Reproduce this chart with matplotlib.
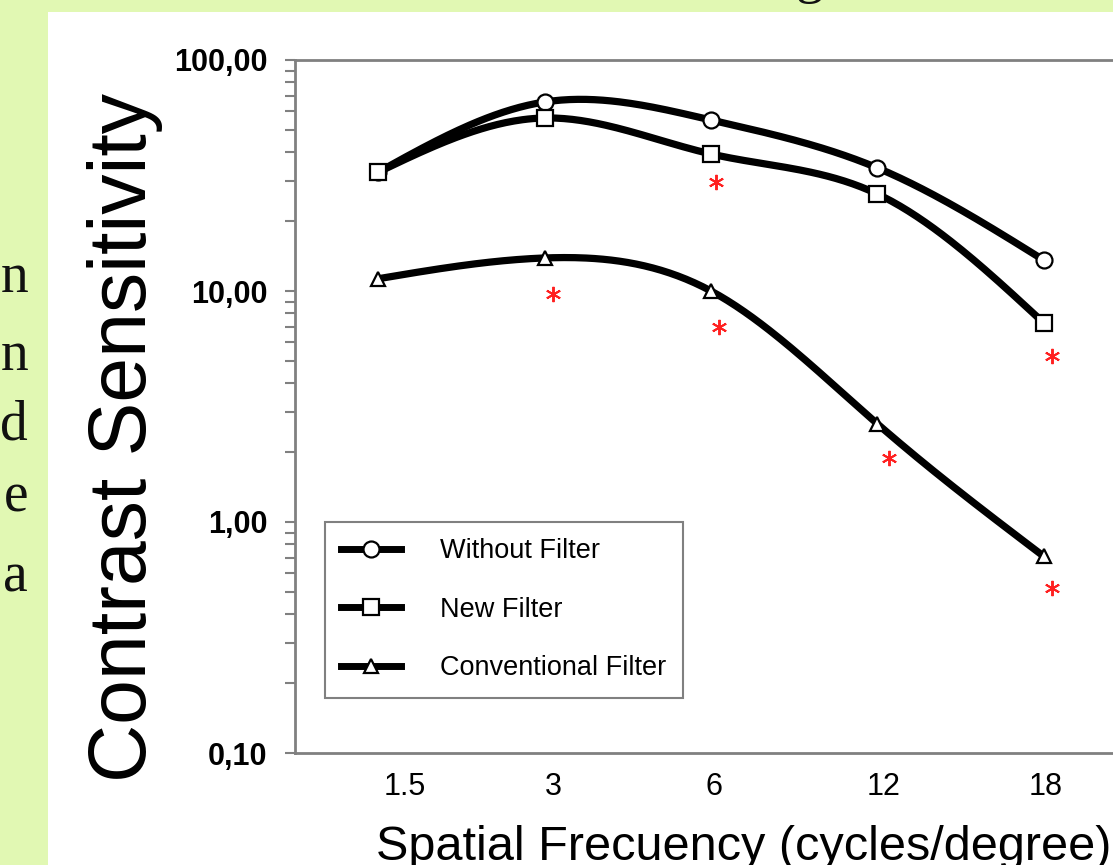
import numpy as np
import matplotlib
matplotlib.use('Agg')
import matplotlib.pyplot as plt
from matplotlib.patches import Rectangle
from matplotlib.ticker import NullFormatter, LogLocator

# --- data ---
freq_labels = ['1.5', '3', '6', '12', '18']
without_filter = [32.7, 65.8, 55.0, 34.1, 13.6]
new_filter = [32.7, 56.1, 39.2, 26.3, 7.27]
conventional_filter = [11.3, 13.9, 10.0, 2.66, 0.71]
# significance asterisks: (category index, value)
sig_x = [1.05, 2.03, 2.05, 3.07, 4.05, 4.05]
sig_y = [9.7, 29.6, 6.98, 1.89, 5.23, 0.518]

y_ticks = [0.1, 1, 10, 100]
y_tick_labels = ['0,10', '1,00', '10,00', '100,00']

SLIDE_GREEN = '#e1f8b3'
SPINE_GRAY = '#808080'

plt.rcParams['font.family'] = ['Liberation Sans', 'DejaVu Sans']


def smooth_curve(values, n_per_seg=60):
    """natural cubic spline through the points in (index, log10) space, for drawing"""
    y = np.log10(np.asarray(values, dtype=float))
    n = len(y)
    A = np.zeros((n, n))
    b = np.zeros(n)
    A[0, 0] = 1
    A[-1, -1] = 1
    for i in range(1, n - 1):
        A[i, i - 1], A[i, i], A[i, i + 1] = 1, 4, 1
        b[i] = 6 * (y[i + 1] - 2 * y[i] + y[i - 1])
    M = np.linalg.solve(A, b)
    xs, ys = [], []
    for i in range(n - 1):
        s = np.linspace(0, 1, n_per_seg, endpoint=(i == n - 2))
        seg = ((1 - s) * y[i] + s * y[i + 1]
               + ((1 - s) ** 3 - (1 - s)) * M[i] / 6
               + (s ** 3 - s) * M[i + 1] / 6)
        xs.append(i + s)
        ys.append(seg)
    return np.concatenate(xs), 10 ** np.concatenate(ys)


W, H = 1113, 865
fig = plt.figure(figsize=(W / 100, H / 100), dpi=100)
fig.patch.set_facecolor(SLIDE_GREEN)

# white panel of the slide
fig.patches.append(Rectangle((48 / W, 0), 1 - 48 / W, (H - 12) / H,
                             transform=fig.transFigure, facecolor='white',
                             edgecolor='none', zorder=-5))

# fragments of the slide text around the picture
for letter, ypix in zip(['n', 'n', 'd', 'e', 'a'], [278, 356, 425, 498, 578]):
    fig.text(28 / W, 1 - ypix / H, letter, family=['Liberation Serif', 'DejaVu Serif'],
             fontsize=40, ha='right', va='center', color='#111111')
fig.text(810 / W, 1 + 8 / H, 'g', family=['Liberation Serif', 'DejaVu Serif'],
         fontsize=40, ha='center', va='baseline', color='#111111')

# axes, cut by the right edge of the picture
ax = fig.add_axes([295 / W, 112 / H, 832 / W, 693 / H], zorder=2)
ax.set_facecolor('white')
x = np.arange(len(freq_labels))

series = [
    (without_filter, 'o', 11.5, 'Without Filter'),
    (new_filter, 's', 11, 'New Filter'),
    (conventional_filter, '^', 10.5, 'Conventional Filter'),
]
handles = []
for vals, mk, ms, lab in series:
    cx, cy = smooth_curve(vals)
    ax.plot(cx, cy, color='black', lw=5.2, solid_capstyle='butt', zorder=3)
    ax.plot(x, vals, linestyle='none', marker=mk, markersize=ms,
            markerfacecolor='white', markeredgecolor='black', markeredgewidth=1.6,
            zorder=4)
    h, = ax.plot([], [], color='black', lw=5, marker=mk, markersize=ms,
                 markerfacecolor='white', markeredgecolor='black',
                 markeredgewidth=1.6, label=lab)
    handles.append(h)

ax.plot(sig_x, sig_y, linestyle='none', marker=(6, 2, 0), markersize=11,
        markeredgewidth=1.4, color='#ff2020', zorder=5)

ax.set_yscale('log')
ax.set_ylim(0.1, 100)
ax.set_xlim(-0.5, 4.5)
ax.set_yticks(y_ticks, y_tick_labels)
ax.yaxis.set_minor_locator(LogLocator(base=10, subs=np.arange(2, 10)))
ax.yaxis.set_minor_formatter(NullFormatter())
ax.tick_params(axis='y', which='both', direction='out', length=7, width=1.5,
               color=SPINE_GRAY, pad=13)
ax.tick_params(axis='y', which='major', labelsize=22)
for t in ax.get_yticklabels():
    t.set_fontweight('bold')

# x labels sit a little right of the markers in the reference
ax.set_xticks([0.16, 1.05, 2.02, 3.04, 4.01], freq_labels)
ax.tick_params(axis='x', length=0, pad=14, labelsize=22)

for side in ['left', 'top', 'bottom']:
    ax.spines[side].set_color(SPINE_GRAY)
    ax.spines[side].set_linewidth(2)
ax.spines['right'].set_visible(False)

leg = ax.legend(handles=handles, loc='upper left', bbox_to_anchor=(0.036, 0.3333),
                borderaxespad=0, fontsize=19.5, handlelength=2.2, handletextpad=1.45,
                labelspacing=1.2, borderpad=0.6, fancybox=False, framealpha=1,
                edgecolor=SPINE_GRAY, numpoints=1)
leg.get_frame().set_linewidth(1.5)

fig.text(125 / W, 1 - 437 / H, 'Contrast Sensitivity', rotation=90,
         fontsize=58, ha='center', va='center')
fig.text(376 / W, 1 - 848 / H, 'Spatial Frecuency (cycles/degree)',
         fontsize=35, ha='left', va='center')

fig.savefig('out.png', dpi=100, facecolor=fig.get_facecolor())
